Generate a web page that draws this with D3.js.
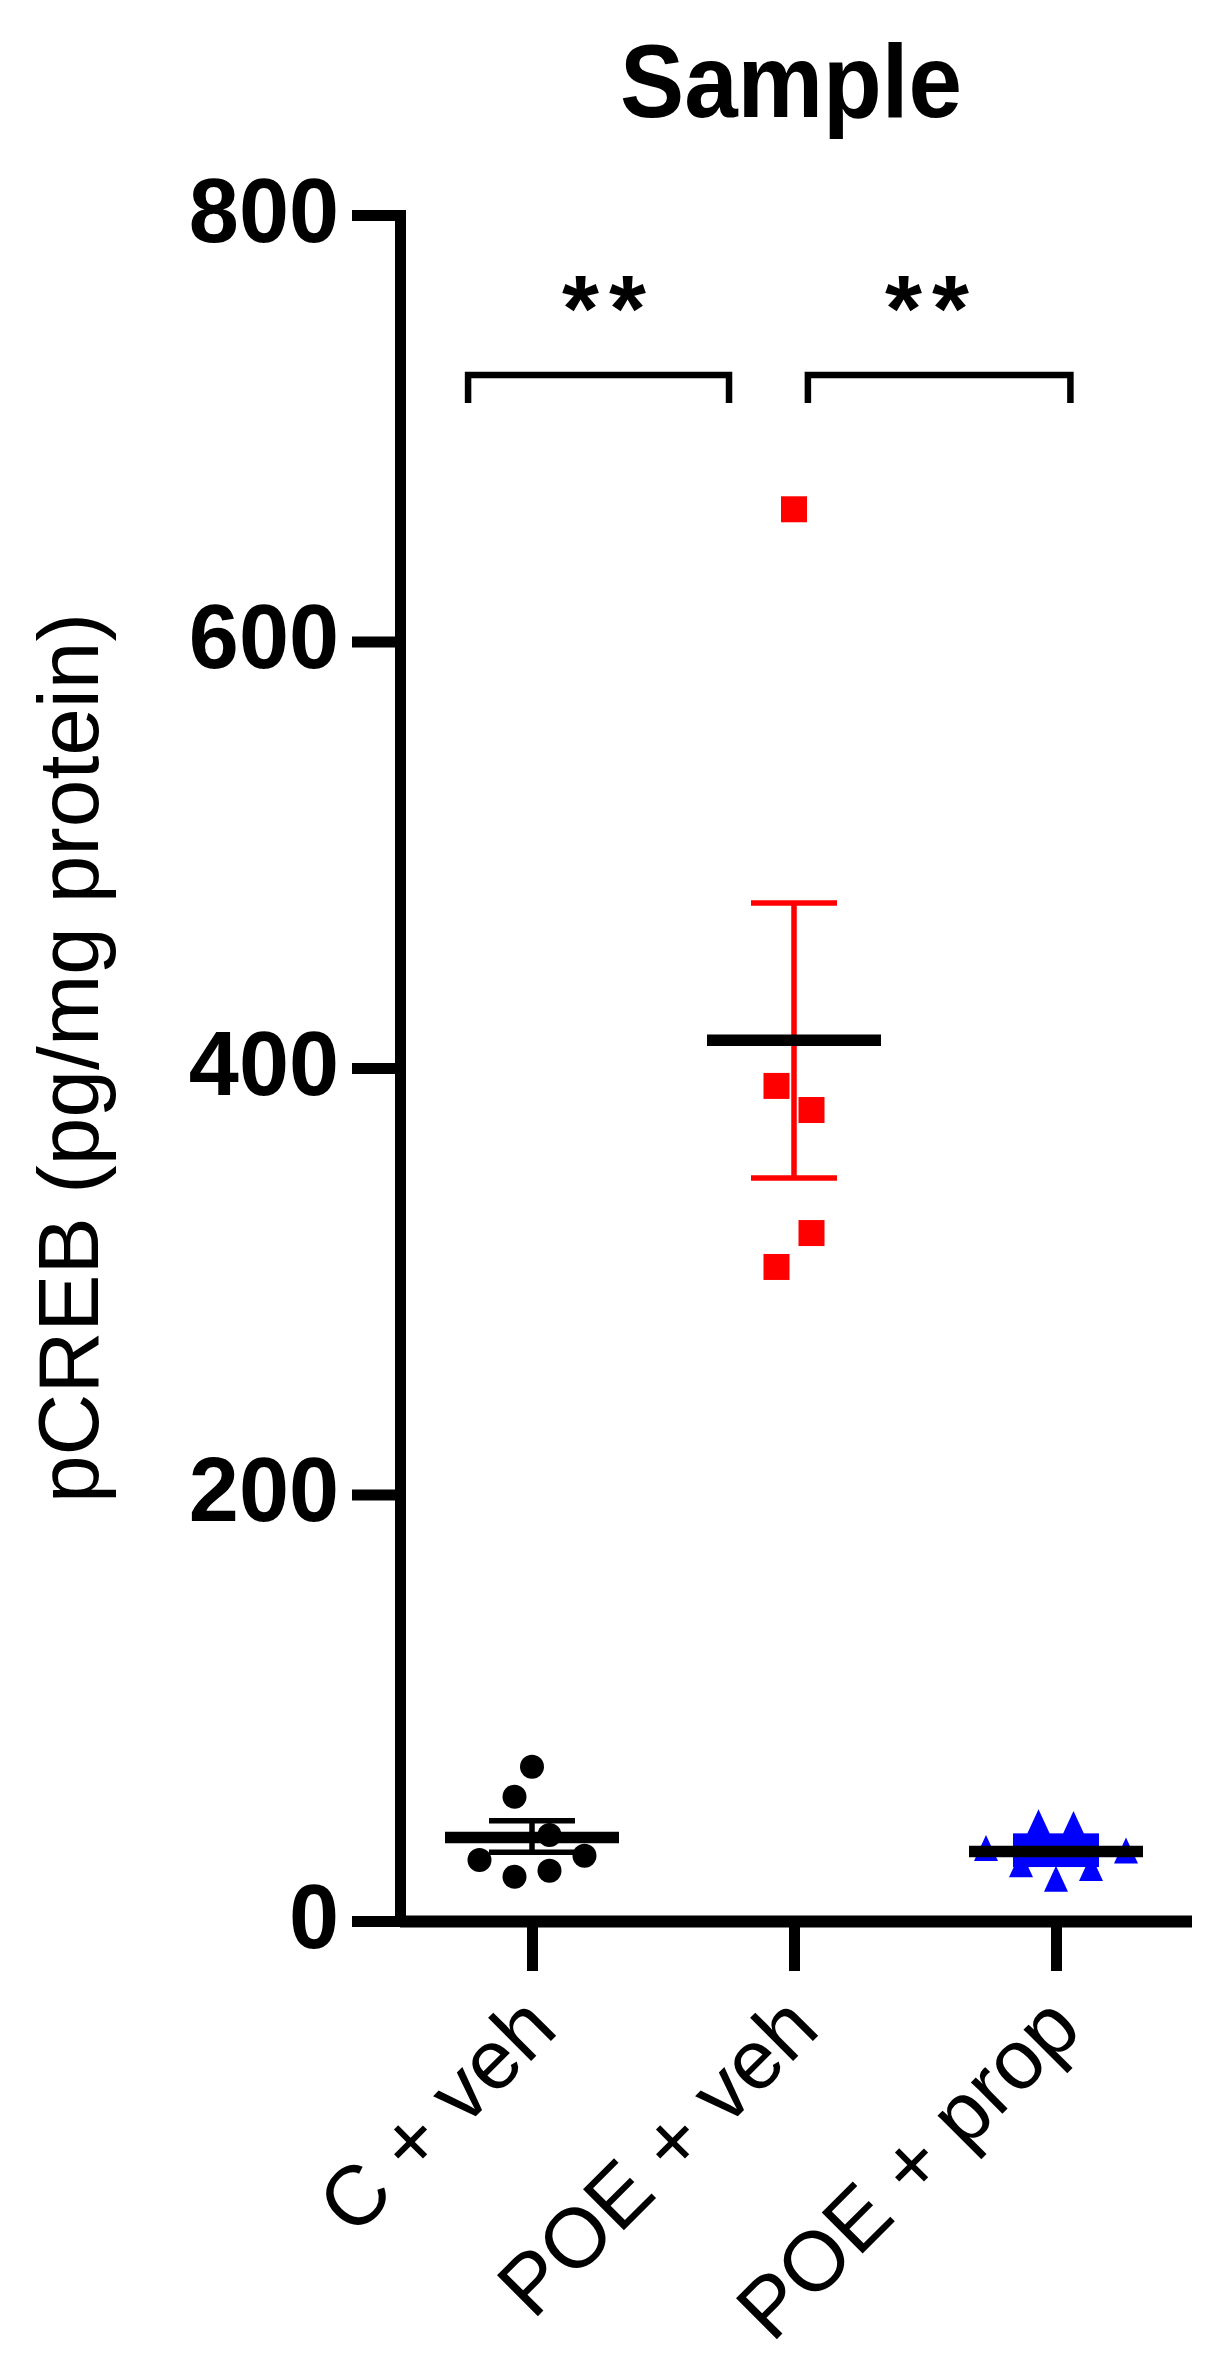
<!DOCTYPE html>
<html><head><meta charset="utf-8">
<script src="https://cdn.jsdelivr.net/npm/d3@7"></script>
<style>
html,body{margin:0;padding:0;background:#fff;}
svg{display:block;}
text{font-family:"Liberation Sans",Arial,Helvetica,sans-serif;fill:#000;}
</style>
</head><body>
<svg id="chart" width="1230" height="2368"></svg>
<script>
// ---------- data ----------
const categories = ["C + veh", "POE + veh", "POE + prop"];
const cVeh    = [72.3, 58.3, 28.6, 30.6, 20.8, 23.6, 40.3];
const poeVeh  = [662, 391.6, 380.3, 322.6, 306.7];
const poeProp = [34.2, 46.3, 45.5, 26.6, 19.8, 24.9, 33.1];
const jitterC  = [0, -1, -3, 3, -1, 1, 1];
const jitterPV = [0, -1, 1, 1, -1];
const jitterPP = [-4, -1, 1, -2, 0, 2, 4];
const means   = [39.2, 413, 32.6];
const errLow  = [32.2, 348.4, 25.3];
const errHigh = [47.0, 477.4, 41.1];
const yTicks  = [0, 200, 400, 600, 800];
const titleText = "Sample";
const yLabelText = "pCREB (pg/mg protein)";
const sigPairs = [[-0.244, 0.752], [1.053, 2.055]];   // bracket ends, in category-index units
const sigLabelPos = [0.275, 1.508];
const sigLabels = ["**", "**"];
const sigValue = 725;

// ---------- layout ----------
const svg = d3.select("#chart");
const y = d3.scaleLinear().domain([0, 800]).range([1921, 215]);
const x = d3.scalePoint().domain(categories).range([532, 1056]);
const xi = d3.scaleLinear().domain([0, categories.length - 1]).range([x(categories[0]), x(categories[categories.length - 1])]);
const jitterUnit = 17.5;

// title
svg.append("text")
  .attr("x", 791).attr("y", 117)
  .attr("text-anchor", "middle")
  .attr("font-size", 104).attr("font-weight", "bold")
  .attr("textLength", 342).attr("lengthAdjust", "spacingAndGlyphs")
  .text(titleText);

// y label
svg.append("text")
  .attr("transform", "translate(98,1058) rotate(-90)")
  .attr("text-anchor", "middle")
  .attr("font-size", 85)
  .attr("textLength", 890).attr("lengthAdjust", "spacingAndGlyphs")
  .text(yLabelText);

// y axis
const gy = svg.append("g").attr("transform", "translate(400,0)")
  .call(d3.axisLeft(y).tickValues(yTicks).tickSize(48).tickPadding(13).tickSizeOuter(0));
gy.select(".domain").attr("stroke", "#000").attr("stroke-width", 11).attr("stroke-linecap", "square");
gy.selectAll(".tick line").attr("stroke", "#000").attr("stroke-width", 11);
gy.selectAll(".tick text")
  .attr("font-family", "'Liberation Sans',Arial,sans-serif")
  .attr("font-size", 90).attr("font-weight", "bold").attr("fill", "#000")
  .attr("dy", "0.29em");

// x axis
const gx = svg.append("g").attr("transform", "translate(0,1921)")
  .call(d3.axisBottom(x).tickSize(50).tickSizeOuter(0).tickFormat(""));
gx.select(".domain").remove();
gx.selectAll(".tick line").attr("stroke", "#000").attr("stroke-width", 11);
gx.append("line").attr("x1", 400).attr("x2", 1192).attr("y1", 0.5).attr("y2", 0.5)
  .attr("stroke", "#000").attr("stroke-width", 12);

// x tick labels (rotated)
svg.append("g").selectAll("text").data(categories).join("text")
  .attr("transform", d => `translate(${x(d) + 28},2032) rotate(-45)`)
  .attr("text-anchor", "end")
  .attr("font-size", 84)
  .text(d => d);

// ---------- points ----------
const triangle = {
  draw(ctx, size) {
    const w = 24, h = 26;
    ctx.moveTo(0, -h / 2);
    ctx.lineTo(w / 2, h / 2);
    ctx.lineTo(-w / 2, h / 2);
    ctx.closePath();
  }
};
const groups = [
  {cat: categories[0], vals: cVeh,    jit: jitterC,  color: "#000000", shape: "circle"},
  {cat: categories[1], vals: poeVeh,  jit: jitterPV, color: "#ff0000", shape: "square"},
  {cat: categories[2], vals: poeProp, jit: jitterPP, color: "#0000ff", shape: "triangle"}
];
const gp = svg.append("g");
groups.forEach(g => {
  const pts = g.vals.map((v, i) => ({v, j: g.jit[i]}));
  const sel = gp.append("g").attr("fill", g.color);
  if (g.shape === "circle") {
    sel.selectAll("circle").data(pts).join("circle")
      .attr("cx", d => x(g.cat) + d.j * jitterUnit).attr("cy", d => y(d.v)).attr("r", 12);
  } else if (g.shape === "square") {
    sel.selectAll("rect").data(pts).join("rect")
      .attr("x", d => x(g.cat) + d.j * jitterUnit - 13).attr("y", d => y(d.v) - 13)
      .attr("width", 26).attr("height", 26);
  } else {
    sel.selectAll("path").data(pts).join("path")
      .attr("transform", d => `translate(${x(g.cat) + d.j * jitterUnit},${y(d.v)})`)
      .attr("d", d3.symbol().type(triangle)());
  }
});

// ---------- error bars ----------
const capW = 86;
groups.forEach((g, i) => {
  const cx = x(g.cat);
  const eb = svg.append("g");
  if (g.shape === "triangle") {
    eb.append("rect")
      .attr("x", cx - capW / 2).attr("width", capW)
      .attr("y", y(errHigh[i])).attr("height", y(errLow[i]) - y(errHigh[i]))
      .attr("fill", g.color);
  } else {
    eb.append("line").attr("x1", cx).attr("x2", cx)
      .attr("y1", y(errHigh[i])).attr("y2", y(errLow[i]))
      .attr("stroke", g.color).attr("stroke-width", 5.5);
    [errHigh[i], errLow[i]].forEach(v => {
      eb.append("line").attr("x1", cx - capW / 2).attr("x2", cx + capW / 2)
        .attr("y1", y(v)).attr("y2", y(v))
        .attr("stroke", g.color).attr("stroke-width", 5.5);
    });
  }
});

// ---------- mean lines ----------
svg.append("g").selectAll("line").data(means).join("line")
  .attr("x1", (d, i) => x(categories[i]) - 87).attr("x2", (d, i) => x(categories[i]) + 87)
  .attr("y1", d => y(d)).attr("y2", d => y(d))
  .attr("stroke", "#000").attr("stroke-width", 11.5);

// ---------- significance ----------
const gs = svg.append("g");
sigPairs.forEach((p, i) => {
  const yb = y(sigValue);
  const path = d3.path();
  path.moveTo(xi(p[0]), yb + 28);
  path.lineTo(xi(p[0]), yb);
  path.lineTo(xi(p[1]), yb);
  path.lineTo(xi(p[1]), yb + 28);
  gs.append("path").attr("d", path.toString())
    .attr("fill", "none").attr("stroke", "#000").attr("stroke-width", 6.5)
    .attr("stroke-linejoin", "miter");
  gs.append("text")
    .attr("x", xi(sigLabelPos[i])).attr("dx", 5).attr("y", 341)
    .attr("text-anchor", "middle").attr("font-size", 95).attr("font-weight", "bold")
    .attr("letter-spacing", 10)
    .text(sigLabels[i]);
});
</script>
</body></html>
